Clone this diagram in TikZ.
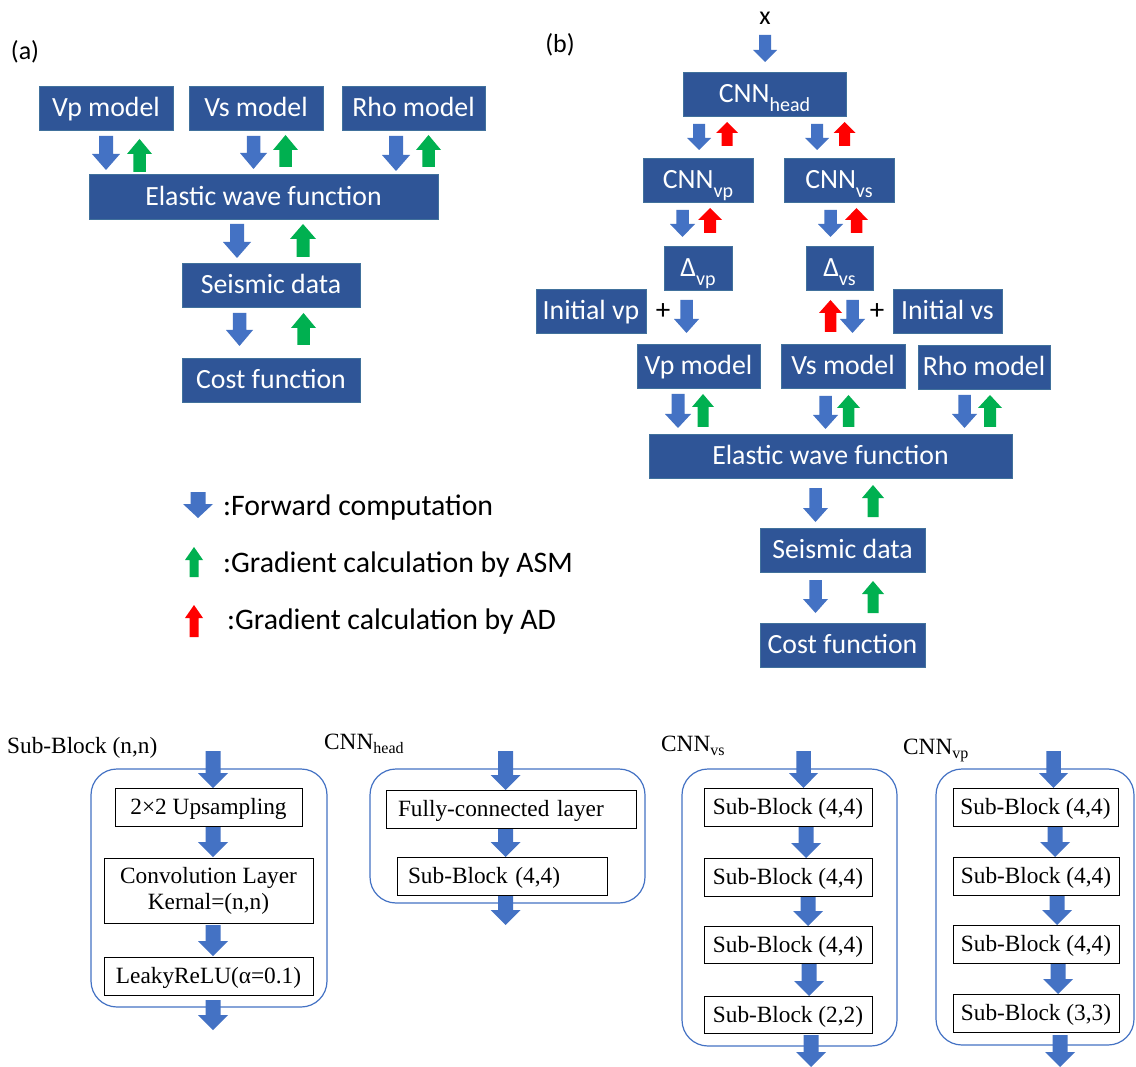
\documentclass[tikz,border=0pt]{standalone}
\usepackage{fontspec}
\setmainfont{Carlito}
\newfontfamily\tms{Liberation Serif}
\definecolor{boxblue}{HTML}{2F5597}
\definecolor{boxedge}{HTML}{41719C}
\definecolor{arrblue}{HTML}{4472C4}
\definecolor{arrgreen}{HTML}{00B050}
\definecolor{arrred}{HTML}{FF0000}
\definecolor{frameblue}{HTML}{4472C4}
% down block arrow: cx, ytop, ybot, width, head height, colour
\newcommand\darr[6]{\fill[#6] ({#1-#4/4},#2) -- ({#1+#4/4},#2) -- ({#1+#4/4},{#3-#5}) -- ({#1+#4/2},{#3-#5}) -- (#1,#3) -- ({#1-#4/2},{#3-#5}) -- ({#1-#4/4},{#3-#5}) -- cycle;}
% up block arrow: cx, ytip, ybot, width, head height, colour
\newcommand\uarr[6]{\fill[#6] (#1,#2) -- ({#1+#4/2},{#2+#5}) -- ({#1+#4/4},{#2+#5}) -- ({#1+#4/4},#3) -- ({#1-#4/4},#3) -- ({#1-#4/4},{#2+#5}) -- ({#1-#4/2},{#2+#5}) -- cycle;}
% box node: style, name, x1, y1, x2, y2, text
\newcommand\pbox[7]{\node[#1, minimum width={#5-#3}, minimum height={#6-#4}] (#2) at ({(#3+#5)/2},{(#4+#6)/2}) {#7};}
\newcommand\sbc[1]{\raisebox{-8.8pt}{\fontsize{20}{20}\selectfont #1}}
\newcommand\sbt[1]{\raisebox{-4pt}{\fontsize{16}{16}\selectfont #1}}
\begin{document}
\begin{tikzpicture}[x=1pt,y=-1pt,
  bbox/.style={draw=boxedge, line width=0.8pt, fill=boxblue, text=white, inner sep=0pt,
    font=\fontsize{27.8}{30}\selectfont, text height=17.7pt, text depth=0pt},
  wbox/.style={draw=black, line width=1pt, fill=white, inner sep=0pt,
    font=\tms\fontsize{23.3}{26}\selectfont, text height=15.4pt, text depth=0pt},
  frame/.style={draw=frameblue, line width=1.2pt, rounded corners=26pt, inner sep=0pt},
  lbl/.style={inner sep=0pt, anchor=base west, font=\tms\fontsize{23.3}{26}\selectfont},
  leg/.style={inner sep=0pt, anchor=base west, font=\fontsize{29.8}{32}\selectfont},
  plain/.style={inner sep=0pt, font=\fontsize{26}{28}\selectfont},
  ]
\fill[white] (0,0) rectangle (1136,1067);
\useasboundingbox (0,0) rectangle (1136,1067);

% ---------------- panel (a) ----------------
\node[plain] (la) at (25,52) {(a)};
\pbox{bbox}{avp}{39}{86}{173}{130}{Vp model}
\pbox{bbox}{avs}{189}{86}{323}{130}{Vs model}
\pbox{bbox}{arho}{342}{86}{485}{130}{Rho model}
\pbox{bbox}{aewf}{89}{174}{438}{219}{Elastic wave function}
\pbox{bbox}{asd}{182}{263}{360}{307}{Seismic data}
\pbox{bbox}{acf}{182}{358}{360}{402}{Cost function}
\darr{106}{136}{170}{28}{16}{arrblue}
\uarr{139.5}{139}{172}{25}{15}{arrgreen}
\darr{253.5}{136}{169}{27}{16}{arrblue}
\uarr{285.5}{135}{167}{25}{15}{arrgreen}
\darr{396}{136}{171}{28}{16}{arrblue}
\uarr{428.5}{135}{167}{25}{15}{arrgreen}
\darr{237}{224}{258}{28}{16}{arrblue}
\uarr{303}{224}{257}{26}{15}{arrgreen}
\darr{239.5}{313}{346}{27}{16}{arrblue}
\uarr{303.5}{313}{345}{25}{15}{arrgreen}

% ---------------- legend ----------------
\darr{198}{492}{518}{30}{14}{arrblue}
\uarr{194}{547}{577}{18}{13}{arrgreen}
\uarr{194}{605}{637}{18}{13}{arrred}
\node[leg] (lg1) at (223,515) {:Forward computation};
\node[leg] (lg2) at (223,572) {:Gradient calculation by ASM};
\node[leg] (lg3) at (227,629) {:Gradient calculation by AD};

% ---------------- panel (b) ----------------
\node[plain] (lb) at (560,45) {(b)};
\node[plain] (xin) at (765,18) {x};
\darr{765}{35}{62}{24}{12}{arrblue}
\pbox{bbox}{head}{683}{72}{846}{116}{CNN\sbc{head}}
\darr{699}{124}{150}{24}{12}{arrblue}
\uarr{727}{122}{146}{22}{11}{arrred}
\darr{817}{124}{150}{24}{12}{arrblue}
\uarr{844.5}{122}{146}{22}{11}{arrred}
\pbox{bbox}{cvp}{643}{158}{753}{202}{CNN\sbc{vp}}
\pbox{bbox}{cvs}{784}{158}{894}{202}{CNN\sbc{vs}}
\darr{682.5}{210}{237}{25}{13}{arrblue}
\uarr{710}{208}{233}{24}{12}{arrred}
\darr{830.5}{210}{237}{25}{13}{arrblue}
\uarr{856.5}{208}{233}{23}{12}{arrred}
\pbox{bbox}{dvp}{664}{246}{732}{290}{Δ\sbc{vp}}
\pbox{bbox}{dvs}{806}{246}{873}{290}{Δ\sbc{vs}}
\pbox{bbox}{ivp}{536}{289}{646}{333}{Initial vp}
\pbox{bbox}{ivs}{893}{289}{1002}{333}{Initial vs}
\node[plain, font=\fontsize{29}{30}\selectfont] (plusl) at (663,312) {+};
\node[plain, font=\fontsize{29}{30}\selectfont] (plusr) at (877,312) {+};
\darr{686.5}{300}{333}{25}{14}{arrblue}
\uarr{830.5}{300}{332}{23}{13}{arrred}
\darr{852.5}{300}{333}{25}{14}{arrblue}
\pbox{bbox}{bvp}{637}{344}{760}{388}{Vp model}
\pbox{bbox}{bvs}{781}{344}{905}{388}{Vs model}
\pbox{bbox}{brho}{918}{345}{1050}{389}{Rho model}
\darr{678}{394}{428}{26}{14}{arrblue}
\uarr{703}{394}{427}{22}{13}{arrgreen}
\darr{825.5}{396}{429}{25}{14}{arrblue}
\uarr{848.5}{395}{427}{23}{13}{arrgreen}
\darr{964.5}{395}{428}{25}{14}{arrblue}
\uarr{990}{395}{427}{24}{13}{arrgreen}
\pbox{bbox}{bewf}{649}{434}{1012}{478}{Elastic wave function}
\darr{815.5}{488}{522}{25}{14}{arrblue}
\uarr{873}{485}{517}{22}{13}{arrgreen}
\pbox{bbox}{bsd}{760}{528}{925}{572}{Seismic data}
\darr{815.5}{580}{613}{25}{14}{arrblue}
\uarr{873}{581}{613}{22}{13}{arrgreen}
\pbox{bbox}{bcf}{760}{623}{925}{667}{Cost function}

% ---------------- bottom: Sub-Block ----------------
\node[lbl] (lsb) at (7,753) {Sub-Block (n,n)};
\pbox{frame}{fsb}{91}{769}{327}{1007}{}
\pbox{wbox}{up}{115}{788}{302}{826}{2×2 Upsampling}
\pbox{wbox, text height={}, text depth={}, align=center}{conv}{104}{858}{313}{923}{Convolution Layer\\Kernal=(n,n)}
\pbox{wbox}{leaky}{104}{957}{313}{995}{LeakyReLU(α=0.1)}
\darr{213}{751}{788}{30}{15}{arrblue}
\darr{213}{827}{857}{30}{15}{arrblue}
\darr{213}{925}{956}{30}{15}{arrblue}
\darr{213}{1000}{1030}{30}{15}{arrblue}

% ---------------- bottom: CNN head ----------------
\node[lbl] (lhd) at (324,749) {CNN\sbt{head}};
\pbox{frame}{fhd}{370}{769}{645}{903}{}
\pbox{wbox, text width=226pt, align=left}{fc}{386}{790}{636}{828}{Fully-connected layer}
\pbox{wbox, text width=188pt, align=left}{hsb}{397}{857}{607}{895}{Sub-Block (4,4)}
\darr{505.5}{751}{790}{30}{15}{arrblue}
\darr{505.5}{829}{857}{30}{15}{arrblue}
\darr{505.5}{896}{925}{30}{15}{arrblue}

% ---------------- bottom: CNN vs ----------------
\node[lbl] (lvs) at (661,751) {CNN\sbt{vs}};
\pbox{frame}{fvs}{682}{769}{897}{1046}{}
\pbox{wbox}{vs1}{704}{788}{872}{826}{Sub-Block (4,4)}
\pbox{wbox}{vs2}{704}{858}{872}{896}{Sub-Block (4,4)}
\pbox{wbox}{vs3}{704}{926}{872}{963}{Sub-Block (4,4)}
\pbox{wbox}{vs4}{704}{996}{872}{1033}{Sub-Block (2,2)}
\darr{803.5}{751}{788}{29}{15}{arrblue}
\darr{806}{827}{858}{30}{15}{arrblue}
\darr{808}{897}{926}{30}{15}{arrblue}
\darr{809}{964}{996}{30}{15}{arrblue}
\darr{811}{1035}{1067}{30}{15}{arrblue}

% ---------------- bottom: CNN vp ----------------
\node[lbl] (lvp) at (903,754) {CNN\sbt{vp}};
\pbox{frame}{fvp}{936}{769}{1134}{1045}{}
\pbox{wbox}{vp1}{953}{788}{1118}{826}{Sub-Block (4,4)}
\pbox{wbox}{vp2}{953}{857}{1119}{895}{Sub-Block (4,4)}
\pbox{wbox}{vp3}{953}{925}{1119}{963}{Sub-Block (4,4)}
\pbox{wbox}{vp4}{953}{994}{1119}{1032}{Sub-Block (3,3)}
\darr{1053.5}{751}{788}{29}{15}{arrblue}
\darr{1055}{827}{857}{30}{15}{arrblue}
\darr{1057}{896}{925}{30}{15}{arrblue}
\darr{1058}{964}{994}{30}{15}{arrblue}
\darr{1060}{1035}{1067}{30}{15}{arrblue}
\end{tikzpicture}
\end{document}
